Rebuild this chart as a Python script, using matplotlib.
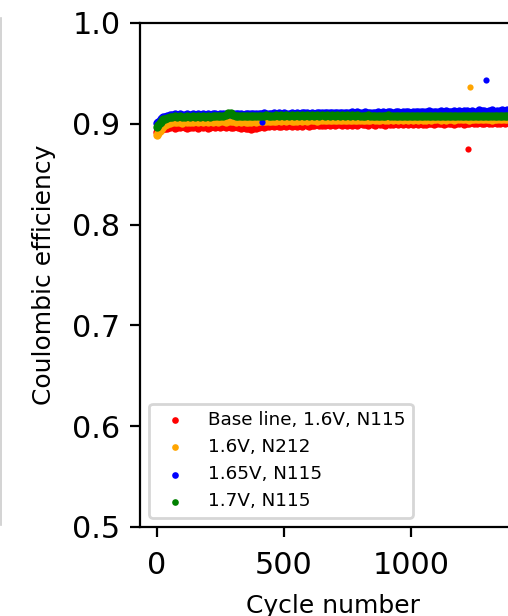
import matplotlib
matplotlib.use("Agg")
import matplotlib.pyplot as plt
from matplotlib.lines import Line2D

# cycle numbers the values below were read at
cycles = [1, 5, 10, 15, 20, 25, 30, 40, 50] + list(range(60, 1400, 10))

labels = ["Base line, 1.6V, N115", "1.6V, N212", "1.65V, N115", "1.7V, N115"]
colors = ["red", "orange", "blue", "green"]

ce_base = [
    0.8920, 0.8928, 0.8937, 0.8945, 0.8950, 0.8954, 0.8958, 0.8962, 0.8965,
    0.8974, 0.8961, 0.8971, 0.8964, 0.8977, 0.8966, 0.8959, 0.8973, 0.8965, 0.8976,
    0.8963, 0.8975, 0.8967, 0.8979, 0.8962, 0.8972, 0.8981, 0.8966, 0.8974, 0.8964,
    0.8977, 0.8968, 0.8980, 0.8971, 0.8965, 0.8975, 0.8964, 0.8958, 0.8966, 0.8954,
    0.8960, 0.8951, 0.8962, 0.8956, 0.8971, 0.8978, 0.8973, 0.8982, 0.8975, 0.8984,
    0.8976, 0.8987, 0.8979, 0.8975, 0.8986, 0.8982, 0.8990, 0.8977, 0.8985, 0.8980,
    0.8992, 0.8983, 0.8995, 0.8986, 0.8981, 0.8993, 0.8989, 0.8997, 0.8984, 0.8991,
    0.8988, 0.8999, 0.8991, 0.8996, 0.8986, 0.9001, 0.8994, 0.8989, 0.8998, 0.8992,
    0.9002, 0.8991, 0.8998, 0.8989, 0.9003, 0.8995, 0.9000, 0.8992, 0.9005, 0.8996,
    0.8993, 0.9004, 0.8997, 0.9002, 0.8992, 0.9006, 0.8999, 0.8995, 0.9003, 0.8998,
    0.9007, 0.8996, 0.9003, 0.9000, 0.9009, 0.8995, 0.9005, 0.9001, 0.9008, 0.8999,
    0.9001, 0.9010, 0.9004, 0.8998, 0.9008, 0.9003, 0.9012, 0.9000, 0.9007, 0.9005,
    0.9011, 0.9002, 0.9009, 0.9005, 0.9013, 0.9001, 0.9008, 0.9006, 0.9014, 0.9003,
    0.9007, 0.9013, 0.9004, 0.9011, 0.9016, 0.9006, 0.9010, 0.9015, 0.9005, 0.9012,
    0.9014, 0.9008, 0.9016, 0.9011,
]
ce_n212 = [
    0.8890, 0.8905, 0.8925, 0.8945, 0.8962, 0.8975, 0.8985, 0.8998, 0.9008,
    0.9013, 0.9022, 0.9015, 0.9020, 0.9011, 0.9024, 0.9017, 0.9021, 0.9014, 0.9023,
    0.9018, 0.9026, 0.9020, 0.9027, 0.9017, 0.9024, 0.9021, 0.9028, 0.9019, 0.9025,
    0.9028, 0.9022, 0.9030, 0.9024, 0.9027, 0.9021, 0.9026, 0.9019, 0.9023, 0.9017,
    0.9020, 0.9016, 0.9024, 0.9019, 0.9027, 0.9023, 0.9030, 0.9025, 0.9029, 0.9026,
    0.9032, 0.9027, 0.9034, 0.9029, 0.9033, 0.9028, 0.9035, 0.9030, 0.9032, 0.9029,
    0.9036, 0.9031, 0.9035, 0.9030, 0.9037, 0.9033, 0.9038, 0.9032, 0.9035, 0.9034,
    0.9033, 0.9039, 0.9035, 0.9040, 0.9034, 0.9038, 0.9036, 0.9041, 0.9035, 0.9039,
    0.9036, 0.9041, 0.9037, 0.9040, 0.9035, 0.9042, 0.9038, 0.9040, 0.9036, 0.9043,
    0.9038, 0.9042, 0.9039, 0.9044, 0.9037, 0.9041, 0.9043, 0.9039, 0.9045, 0.9040,
    0.9043, 0.9039, 0.9044, 0.9040, 0.9045, 0.9041, 0.9043, 0.9038, 0.9046, 0.9042,
    0.9041, 0.9045, 0.9042, 0.9047, 0.9043, 0.9044, 0.9040, 0.9046, 0.9042, 0.9045,
    0.9046, 0.9042, 0.9047, 0.9043, 0.9048, 0.9044, 0.9045, 0.9041, 0.9047, 0.9044,
    0.9043, 0.9048, 0.9044, 0.9049, 0.9045, 0.9047, 0.9042, 0.9048, 0.9046, 0.9049,
    0.9045, 0.9050, 0.9046, 0.9048,
]
ce_165 = [
    0.9005, 0.9018, 0.9032, 0.9045, 0.9055, 0.9063, 0.9070, 0.9079, 0.9085,
    0.9087, 0.9094, 0.9089, 0.9095, 0.9086, 0.9092, 0.9096, 0.9088, 0.9093, 0.9090,
    0.9096, 0.9090, 0.9097, 0.9092, 0.9098, 0.9089, 0.9095, 0.9099, 0.9091, 0.9096,
    0.9094, 0.9100, 0.9096, 0.9101, 0.9093, 0.9098, 0.9095, 0.9099, 0.9092, 0.9097,
    0.9095, 0.9101, 0.9097, 0.9102, 0.9094, 0.9099, 0.9103, 0.9096, 0.9100, 0.9098,
    0.9104, 0.9098, 0.9103, 0.9100, 0.9105, 0.9097, 0.9102, 0.9106, 0.9099, 0.9103,
    0.9101, 0.9107, 0.9103, 0.9108, 0.9100, 0.9105, 0.9102, 0.9109, 0.9104, 0.9106,
    0.9104, 0.9110, 0.9106, 0.9111, 0.9103, 0.9108, 0.9112, 0.9105, 0.9109, 0.9107,
    0.9107, 0.9113, 0.9108, 0.9114, 0.9106, 0.9111, 0.9115, 0.9109, 0.9112, 0.9110,
    0.9110, 0.9117, 0.9111, 0.9116, 0.9109, 0.9114, 0.9118, 0.9112, 0.9115, 0.9113,
    0.9112, 0.9120, 0.9114, 0.9119, 0.9111, 0.9117, 0.9121, 0.9115, 0.9118, 0.9116,
    0.9115, 0.9124, 0.9117, 0.9122, 0.9113, 0.9121, 0.9126, 0.9116, 0.9123, 0.9119,
    0.9118, 0.9128, 0.9120, 0.9126, 0.9116, 0.9125, 0.9130, 0.9119, 0.9127, 0.9122,
    0.9121, 0.9132, 0.9124, 0.9130, 0.9118, 0.9129, 0.9134, 0.9122, 0.9131, 0.9125,
    0.9133, 0.9123, 0.9135, 0.9127,
]
ce_17 = [
    0.8965, 0.8985, 0.9005, 0.9022, 0.9035, 0.9044, 0.9051, 0.9060, 0.9066,
    0.9067, 0.9073, 0.9069, 0.9074, 0.9066, 0.9072, 0.9075, 0.9068, 0.9073, 0.9070,
    0.9077, 0.9071, 0.9076, 0.9072, 0.9078, 0.9070, 0.9075, 0.9079, 0.9073, 0.9077,
    0.9079, 0.9088, 0.9112, 0.9108, 0.9085, 0.9076, 0.9080, 0.9074, 0.9078, 0.9073,
    0.9076, 0.9080, 0.9075, 0.9081, 0.9077, 0.9082, 0.9078, 0.9083, 0.9079, 0.9082,
    0.9080, 0.9085, 0.9079, 0.9084, 0.9081, 0.9086, 0.9080, 0.9084, 0.9082, 0.9085,
    0.9081, 0.9086, 0.9080, 0.9085, 0.9082, 0.9087, 0.9081, 0.9084, 0.9080, 0.9085,
    0.9080, 0.9084, 0.9079, 0.9085, 0.9081, 0.9083, 0.9078, 0.9084, 0.9080, 0.9083,
    0.9079, 0.9083, 0.9078, 0.9084, 0.9080, 0.9082, 0.9077, 0.9083, 0.9079, 0.9082,
    0.9078, 0.9082, 0.9077, 0.9081, 0.9079, 0.9083, 0.9076, 0.9081, 0.9078, 0.9080,
    0.9077, 0.9081, 0.9076, 0.9080, 0.9078, 0.9082, 0.9075, 0.9080, 0.9077, 0.9079,
    0.9076, 0.9080, 0.9075, 0.9079, 0.9077, 0.9081, 0.9074, 0.9079, 0.9076, 0.9078,
    0.9075, 0.9079, 0.9074, 0.9078, 0.9076, 0.9080, 0.9073, 0.9078, 0.9075, 0.9077,
    0.9075, 0.9079, 0.9074, 0.9078, 0.9076, 0.9080, 0.9073, 0.9078, 0.9075, 0.9077,
    0.9076, 0.9079, 0.9074, 0.9078,
]

# stray points per series
out_cycles = [[1226], [1235], [412, 1298], []]
out_values = [[0.875], [0.937], [0.9017, 0.943], []]

series = [ce_base, ce_n212, ce_165, ce_17]

fig = plt.figure(figsize=(2.54, 3.08), dpi=200)
# axes runs past the right edge, as in the cropped original
ax = fig.add_axes([140 / 508, 89 / 616, 385 / 508, 504 / 616])

for vals, oc, ov, c, lab in zip(series, out_cycles, out_values, colors, labels):
    ax.scatter(cycles, vals, s=9, color=c, linewidths=0, label=lab)
    if oc:
        ax.scatter(oc, ov, s=5, color=c, linewidths=0)

ax.set_xlim(-67, 1450)
ax.set_ylim(0.5, 1.0)
ax.set_xticks([0, 500, 1000])
ax.set_yticks([0.5, 0.6, 0.7, 0.8, 0.9, 1.0])
ax.tick_params(labelsize=10.9)
ax.tick_params(axis="x", pad=5)
ax.set_xlabel("Cycle number", fontsize=9, labelpad=5)
ax.set_ylabel("Coulombic efficiency", fontsize=9, labelpad=6)
ax.legend(loc="lower left", fontsize=6.6, markerscale=0.8)

# thin frame edge of the neighbouring panel
fig.add_artist(Line2D([0.002, 0.002], [1 - 18 / 616, 1 - 525 / 616],
                      transform=fig.transFigure, color="#cccccc", lw=0.6))

fig.savefig("out.png", dpi=200)
